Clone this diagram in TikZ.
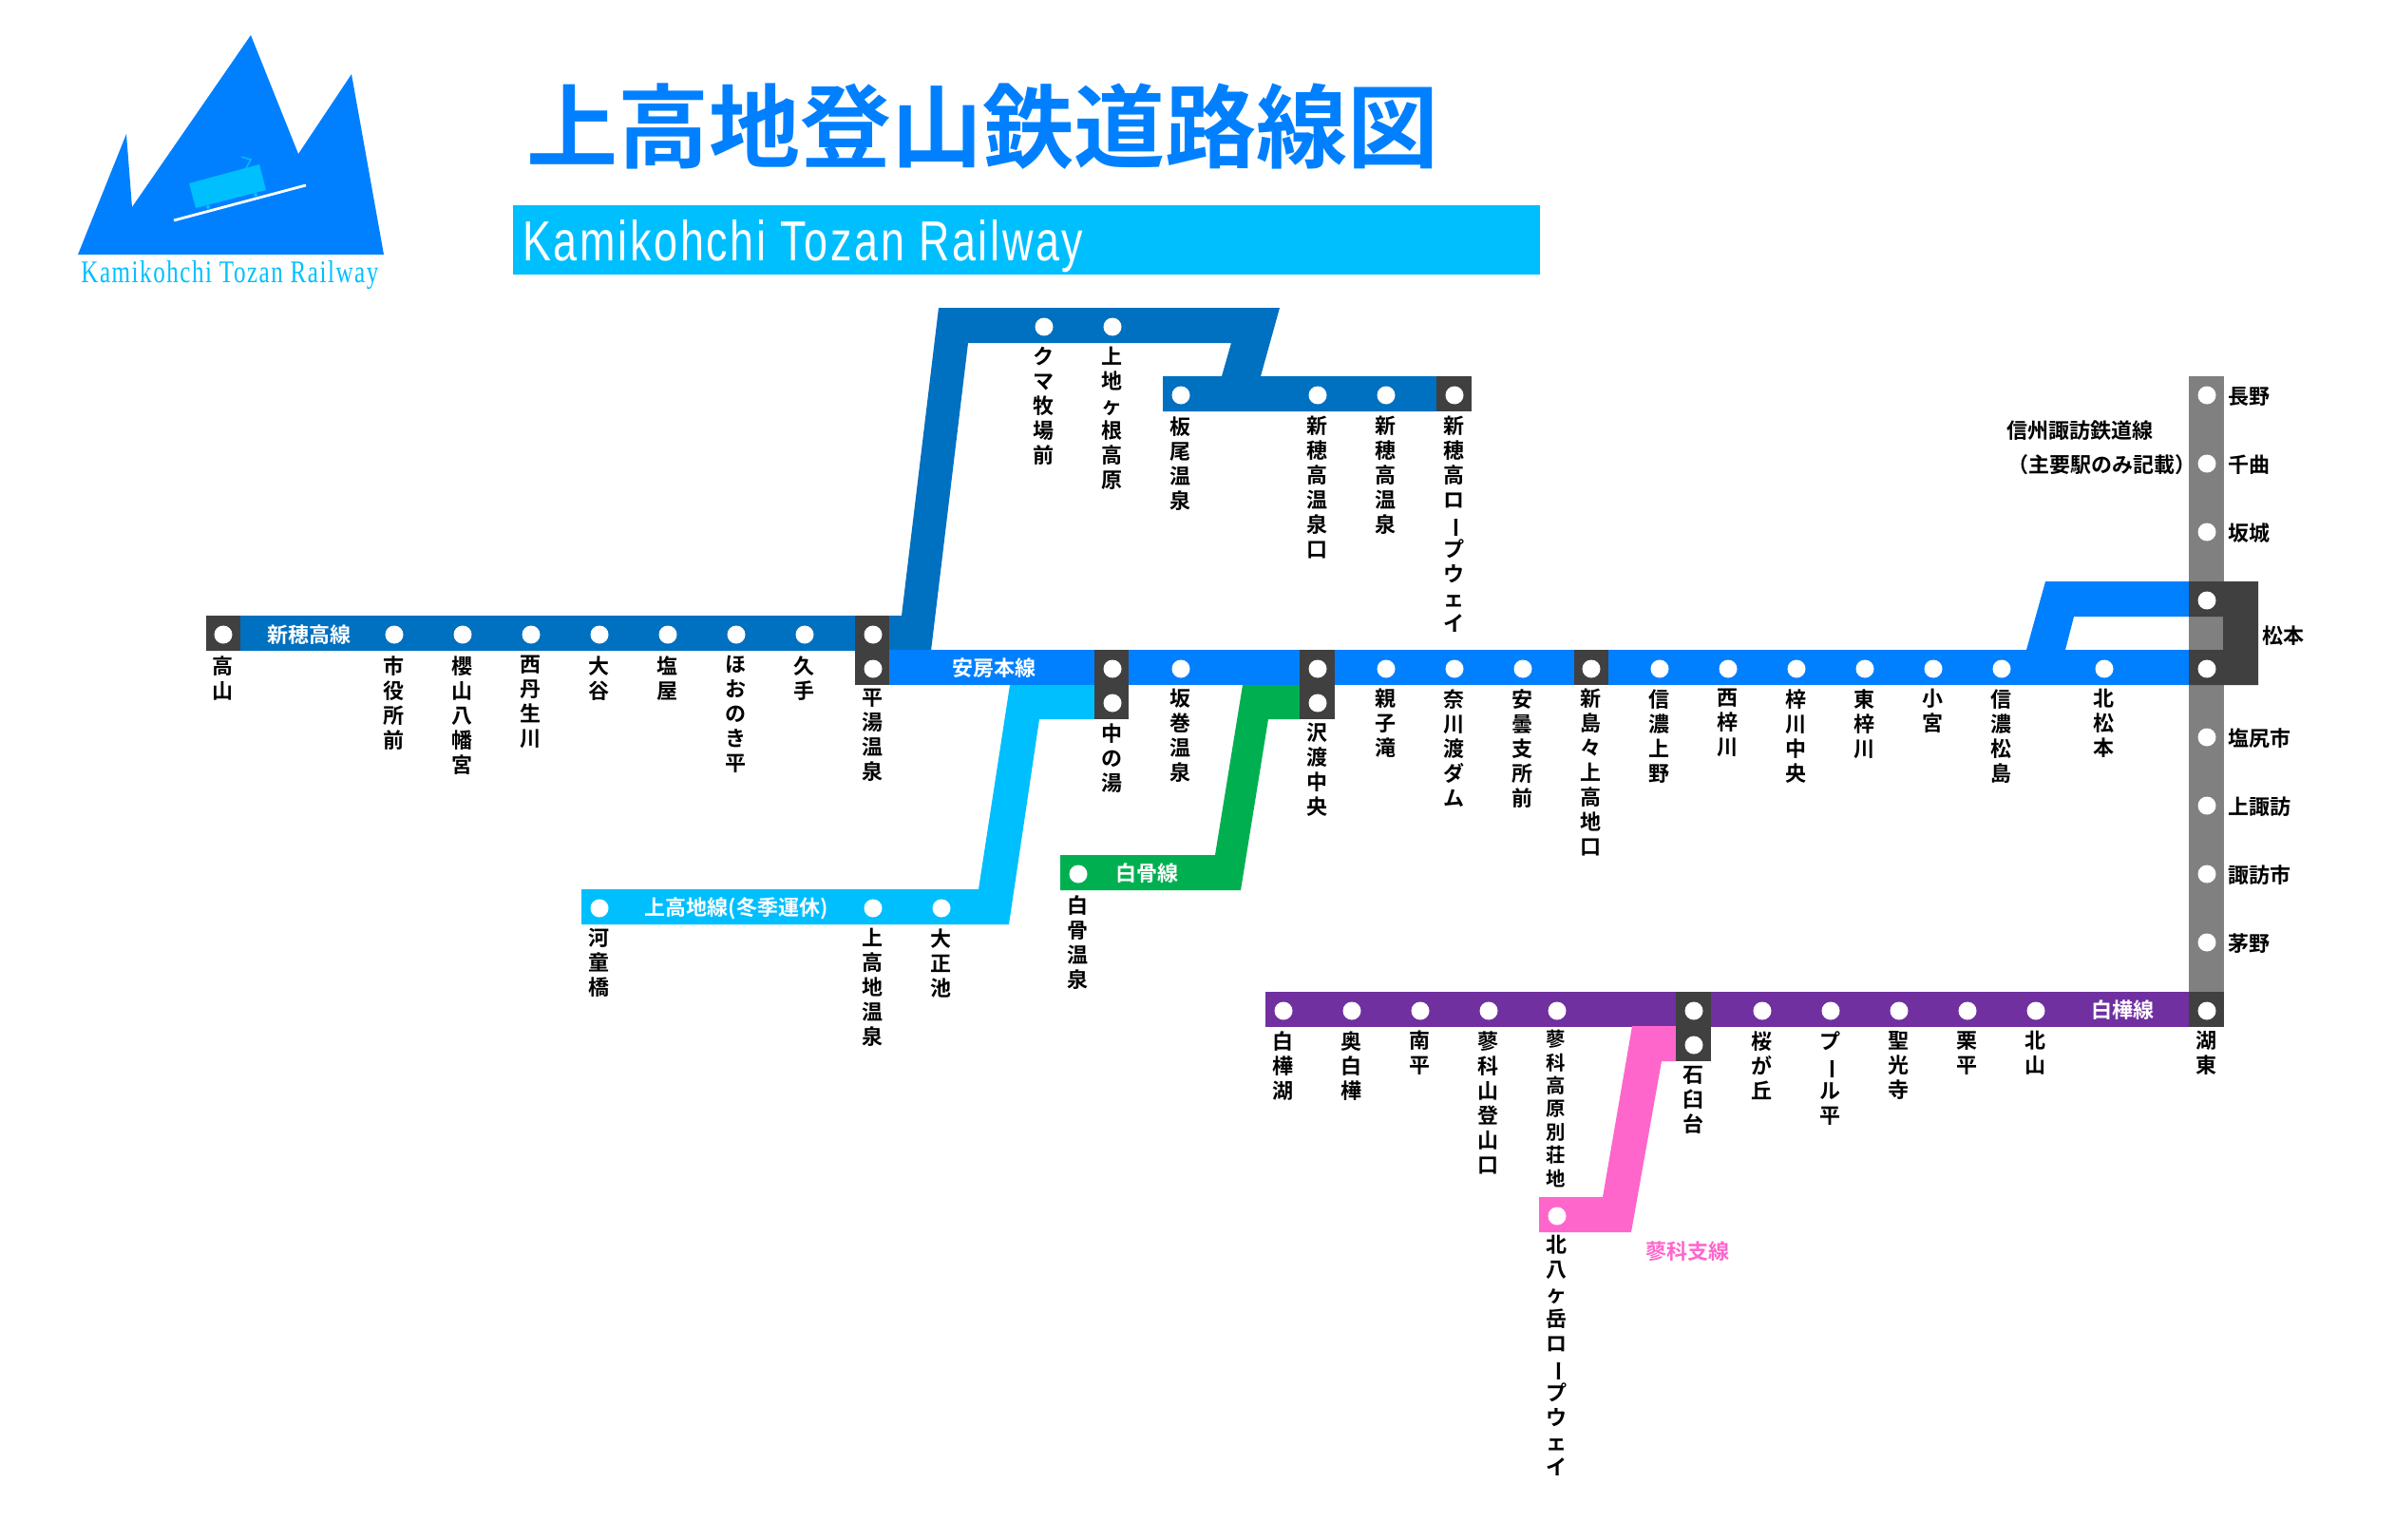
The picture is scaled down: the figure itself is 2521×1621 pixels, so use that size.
\documentclass[tikz,border=0pt]{standalone}
\usepackage{fontspec}
\setmainfont{Liberation Sans}
\newfontfamily\jp{Noto Sans CJK JP}[BoldFont={Noto Sans CJK JP Bold}]
\newfontfamily\lserif{Liberation Serif}[LetterSpace=6]
\newfontfamily\lsans{Liberation Sans}[LetterSpace=6]
\definecolor{mainblue}{HTML}{0080FF}
\definecolor{hotaka}{HTML}{0070C0}
\definecolor{kamic}{HTML}{00BFFF}
\definecolor{hakko}{HTML}{00B050}
\definecolor{shira}{HTML}{7030A0}
\definecolor{tate}{HTML}{FF66CC}
\definecolor{shingray}{HTML}{808080}
\definecolor{darkst}{HTML}{404040}
\newcommand\vb{\rotatebox[origin=c]{-90}{ー}}
\tikzset{
  vlabel/.style={font=\jp\bfseries\fontsize{11}{13}\selectfont,align=center,inner sep=0pt,anchor=north,text=black,execute at begin node={\rule{0pt}{8.7pt}}},
  vsmall/.style={vlabel,font=\jp\bfseries\fontsize{10.2}{12.2}\selectfont},
  hlabel/.style={font=\jp\bfseries\fontsize{11}{13}\selectfont,inner sep=0pt,text=black},
  linename/.style={hlabel,text=white},
  stdot/.style={circle,fill=white,draw=none,minimum size=9.5pt,inner sep=0pt}
}
\newcommand\stl[4]{\node[vlabel] (#1) at (#2,#3) {#4};}
\begin{document}
\begin{tikzpicture}[x=0.5pt,y=-0.5pt]
\useasboundingbox (0,0) rectangle (2521,1621);
% logo
\fill[mainblue] (82,268)--(133,141)--(139,218)--(264,37)--(314,162)--(370,78)--(404,268)--cycle;
\fill[kamic] (199,193)--(273,173)--(280,200)--(206,219)--cycle;
\draw[kamic,line width=0.7pt] (259,177)--(264,168)--(254,165);
\fill[kamic] (219,218) circle (2) (269,205) circle (2);
\draw[white,line width=1.4pt] (183,232)--(322,195);
\node[inner sep=0pt,anchor=base west,text=kamic,font=\lserif] (logotext) at (85,297) {\resizebox{156.5pt}{11.5pt}{Kamikohchi Tozan Railway}};
% title
\node[inner sep=0pt,text=mainblue,font=\jp\bfseries\fontsize{48}{50}\selectfont] (title) at (1034,133) {上高地登山鉄道路線図};
\fill[kamic] (540,216) rectangle (1621,289);
\node[inner sep=0pt,anchor=base west,text=white,font=\lsans] (subtitle) at (550,275) {\resizebox{295pt}{21.5pt}{Kamikohchi Tozan Railway}};
% bands
\fill[shingray] (2304,396) rectangle (2341,1044);
\fill[hotaka] (217,648)--(949,648)--(988,324)--(1347,324)--(1327,396)--(1512,396)--(1512,433)--(1224,433)--(1224,396)--(1286,396)--(1296,361)--(1019,361)--(980,685)--(217,685)--cycle;
\fill[mainblue] (936,684) rectangle (2304,721);
\fill[mainblue] (2133,684)--(2153,612)--(2304,612)--(2304,649)--(2183,649)--(2174,684)--cycle;
\fill[kamic] (612,936)--(1030,936)--(1063,721)--(1152,721)--(1152,757)--(1094,757)--(1062,973)--(612,973)--cycle;
\fill[hakko] (1116,900)--(1279,900)--(1308,721)--(1368,721)--(1368,757)--(1335,757)--(1306,937)--(1116,937)--cycle;
\fill[shira] (1332,1044) rectangle (2304,1081);
\fill[tate] (1620,1260)--(1687,1260)--(1718,1080)--(1764,1080)--(1764,1117)--(1749,1117)--(1717,1297)--(1620,1297)--cycle;
% interchange boxes
\fill[darkst] (217,648) rectangle (253,685);
\fill[darkst] (900,648) rectangle (936,721);
\fill[darkst] (1152,684) rectangle (1188,757);
\fill[darkst] (1368,684) rectangle (1405,757);
\fill[darkst] (1657,684) rectangle (1693,721);
\fill[darkst] (1512,396) rectangle (1549,433);
\fill[darkst] (1764,1044) rectangle (1801,1117);
\fill[darkst] (2304,1044) rectangle (2341,1081);
\fill[darkst] (2304,612)--(2377,612)--(2377,721)--(2304,721)--(2304,684)--(2340,684)--(2340,649)--(2304,649)--cycle;
% stations
\foreach \p in {235,415,487,559,631,703,775,847,919} \node[stdot] at (\p,668) {};
\foreach \p in {919,1171,1243,1387,1459,1531,1603,1675,1747,1819,1891,1963,2035,2107,2215,2323} \node[stdot] at (\p,704) {};
\foreach \p in {1171,1387} \node[stdot] at (\p,740) {};
\foreach \p in {1099,1171} \node[stdot] at (\p,344) {};
\foreach \p in {1243,1387,1459,1531} \node[stdot] at (\p,416) {};
\foreach \p in {631,919,991} \node[stdot] at (\p,956) {};
\node[stdot] at (1135,920) {};
\foreach \p in {1351,1423,1495,1567,1639,1783,1855,1927,1999,2071,2143,2323} \node[stdot] at (\p,1064) {};
\node[stdot] at (1783,1100) {};
\node[stdot] at (1639,1280) {};
\foreach \p in {416,488,560,632,776,848,920,992} \node[stdot] at (2323,\p) {};
% line names
\node[linename] (n1) at (325,668.5) {新穂高線};
\node[linename] (n2) at (1046,703.5) {安房本線};
\node[linename] (n3) at (775,956.5) {上高地線(冬季運休)};
\node[linename] (n4) at (1207,919.5) {白骨線};
\node[linename] (n5) at (2234,1063.5) {白樺線};
\node[hlabel,text=tate] (n6) at (1776,1317) {蓼科支線};
\node[hlabel,anchor=west] (n7) at (2112,453) {信州諏訪鉄道線};
\node[hlabel] (n8) at (2212,489.5) {（主要駅のみ記載）};
% right labels
\node[hlabel,anchor=west] (r1) at (2345,417.5) {長野};
\node[hlabel,anchor=west] (r2) at (2345,489.5) {千曲};
\node[hlabel,anchor=west] (r3) at (2345,561.5) {坂城};
\node[hlabel,anchor=west] (r4) at (2381,669.5) {松本};
\node[hlabel,anchor=west] (r5) at (2345,777.5) {塩尻市};
\node[hlabel,anchor=west] (r6) at (2345,849.5) {上諏訪};
\node[hlabel,anchor=west] (r7) at (2345,921.5) {諏訪市};
\node[hlabel,anchor=west] (r8) at (2345,993.5) {茅野};
% vertical labels
\stl{a1}{234}{690}{高\\山}
\stl{a2}{414}{690}{市\\役\\所\\前}
\stl{a3}{486}{690}{櫻\\山\\八\\幡\\宮}
\stl{a4}{558}{690}{西\\丹\\生\\川}
\stl{a5}{630}{690}{大\\谷}
\stl{a6}{702}{690}{塩\\屋}
\stl{a7}{774}{690}{ほ\\お\\の\\き\\平}
\stl{a8}{846}{690}{久\\手}
\stl{a9}{918}{725}{平\\湯\\温\\泉}
\stl{b1}{1170}{761}{中\\の\\湯}
\stl{b2}{1242}{725}{坂\\巻\\温\\泉}
\stl{b3}{1386}{761}{沢\\渡\\中\\央}
\stl{b4}{1458}{725}{親\\子\\滝}
\stl{b5}{1530}{725}{奈\\川\\渡\\ダ\\ム}
\stl{b6}{1602}{725}{安\\曇\\支\\所\\前}
\stl{b7}{1674}{725}{新\\島\\々\\上\\高\\地\\口}
\stl{b8}{1746}{725}{信\\濃\\上\\野}
\stl{b9}{1818}{725}{西\\梓\\川}
\stl{b10}{1890}{725}{梓\\川\\中\\央}
\stl{b11}{1962}{725}{東\\梓\\川}
\stl{b12}{2034}{725}{小\\宮}
\stl{b13}{2106}{725}{信\\濃\\松\\島}
\stl{b14}{2214}{725}{北\\松\\本}
\stl{c1}{1098}{365}{ク\\マ\\牧\\場\\前}
\stl{c2}{1170}{365}{上\\地\\ヶ\\根\\高\\原}
\stl{c3}{1242}{438}{板\\尾\\温\\泉}
\stl{c4}{1386}{438}{新\\穂\\高\\温\\泉\\口}
\stl{c5}{1458}{438}{新\\穂\\高\\温\\泉}
\stl{c6}{1530}{438}{新\\穂\\高\\ロ\\\vb\\プ\\ウ\\ェ\\イ}
\stl{d1}{630}{977}{河\\童\\橋}
\stl{d2}{918}{977}{上\\高\\地\\温\\泉}
\stl{d3}{990}{977}{大\\正\\池}
\stl{e1}{1134}{942}{白\\骨\\温\\泉}
\stl{f1}{1350}{1085}{白\\樺\\湖}
\stl{f2}{1422}{1085}{奥\\白\\樺}
\stl{f3}{1494}{1085}{南\\平}
\stl{f4}{1566}{1085}{蓼\\科\\山\\登\\山\\口}
\node[vsmall] (f5) at (1638,1084) {蓼\\科\\高\\原\\別\\荘\\地};
\stl{f6}{1638}{1300}{北\\八\\ヶ\\岳\\ロ\\\vb\\プ\\ウ\\ェ\\イ}
\stl{f7}{1782}{1122}{石\\臼\\台}
\stl{f8}{1854}{1085}{桜\\が\\丘}
\stl{f9}{1926}{1085}{プ\\\vb\\ル\\平}
\stl{f10}{1998}{1085}{聖\\光\\寺}
\stl{f11}{2070}{1085}{栗\\平}
\stl{f12}{2142}{1085}{北\\山}
\stl{f13}{2322}{1085}{湖\\東}
\end{tikzpicture}
\end{document}
